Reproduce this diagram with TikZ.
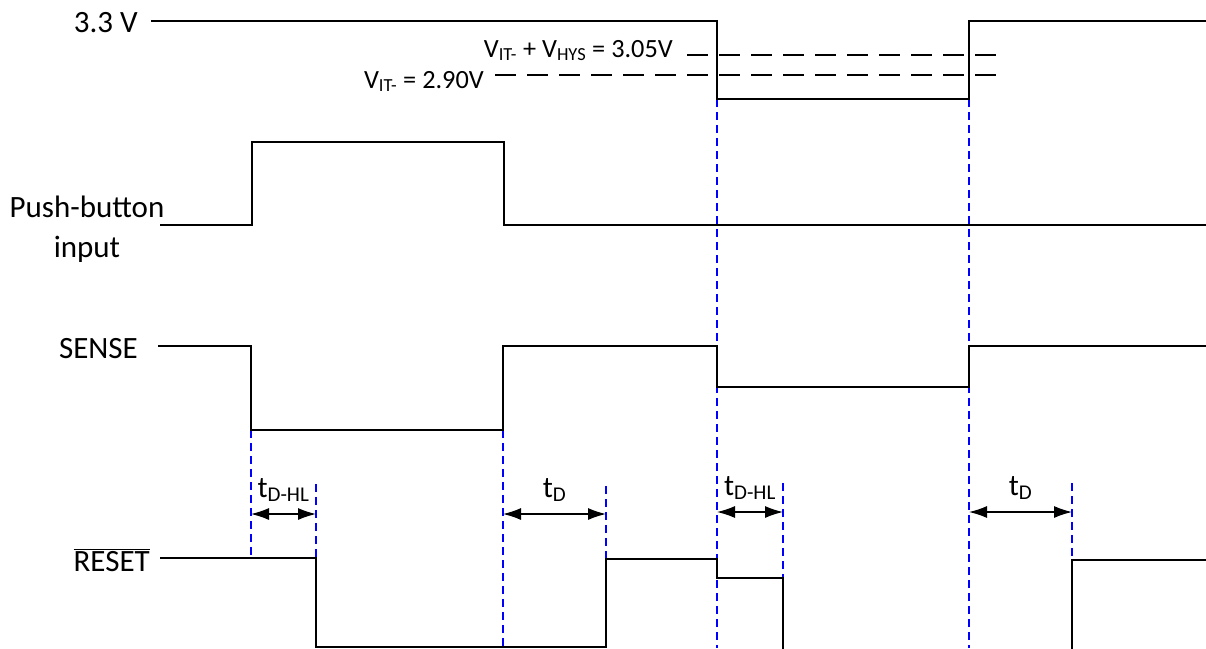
\documentclass[tikz,border=0pt]{standalone}
\usepackage{fontspec}
\setmainfont{Carlito}
\usetikzlibrary{arrows.meta}

\begin{document}
\begin{tikzpicture}[x=1pt, y=-1pt, line join=miter,
    senal/.style={line width=1.8pt},
    guia/.style={blue, line width=1.1pt, dash pattern=on 8pt off 5pt},
    umbral/.style={line width=1.4pt, dash pattern=on 21pt off 11pt},
    cota/.style={line width=1.2pt, {Latex[length=18pt,width=12pt]}-{Latex[length=18pt,width=12pt]}},
    etiq/.style={inner sep=0pt, font=\fontsize{31}{40}\selectfont},
    tiempo/.style={inner sep=0pt, anchor=base, font=\fontsize{30}{36}\selectfont},
    nivel/.style={inner sep=0pt, anchor=base east, font=\fontsize{26.3}{30}\selectfont}]
  \useasboundingbox (0,0) rectangle (1206,648);
  \clip (0,0) rectangle (1206,648);
  % etiquetas de las senales
  \node[etiq, anchor=base east] (vdd) at (138,32) {3.3 V};
  \node[etiq, anchor=base, align=center] (pb) at (87,257) {Push-button\\input};
  \node[etiq, anchor=base east] (sense) at (138,358) {SENSE};
  \node[etiq, anchor=base east] (rst) at (150,571) {$\overline{\mbox{RESET}}$};
  % lineas guia
  \foreach \x/\ya/\yb in {251/430/558, 316/484/558, 503/430/648, 606/486/560,
      717/99/648, 783/483/578, 969/99/648, 1072/483/648}
    \draw[guia] (\x,\ya) -- (\x,\yb);
  % umbrales
  \draw[umbral] (687,55) -- (996,55);
  \draw[umbral] (495,75) -- (996,75);
  \node[nivel] (vhys) at (673,57) {V\textsubscript{IT-} + V\textsubscript{HYS} = 3.05V};
  \node[nivel] (vit) at (484,88) {V\textsubscript{IT-} = 2.90V};
  % formas de onda
  \draw[senal] (151,21) -| (717,99) -| (969,21) -- (1206,21);
  \draw[senal] (160,225) -| (252,142) -| (504,225) -- (1206,225);
  \draw[senal] (158,346) -| (251,430) -| (503,346) -| (717,387) -| (969,346) -- (1206,346);
  \draw[senal] (160,558) -| (316,647) -| (606,559) -| (717,578) -| (783,680) -| (1072,560) -- (1206,560);
  % retardos
  \draw[cota] (251,514) -- node[tiempo, yshift=17pt] {t\textsubscript{D-HL}} (316,514);
  \draw[cota] (503,514) -- node[tiempo, yshift=17pt] {t\textsubscript{D}} (606,514);
  \draw[cota] (717,512) -- node[tiempo, yshift=17pt] {t\textsubscript{D-HL}} (783,512);
  \draw[cota] (969,512) -- node[tiempo, yshift=17pt] {t\textsubscript{D}} (1072,512);
\end{tikzpicture}
\end{document}
